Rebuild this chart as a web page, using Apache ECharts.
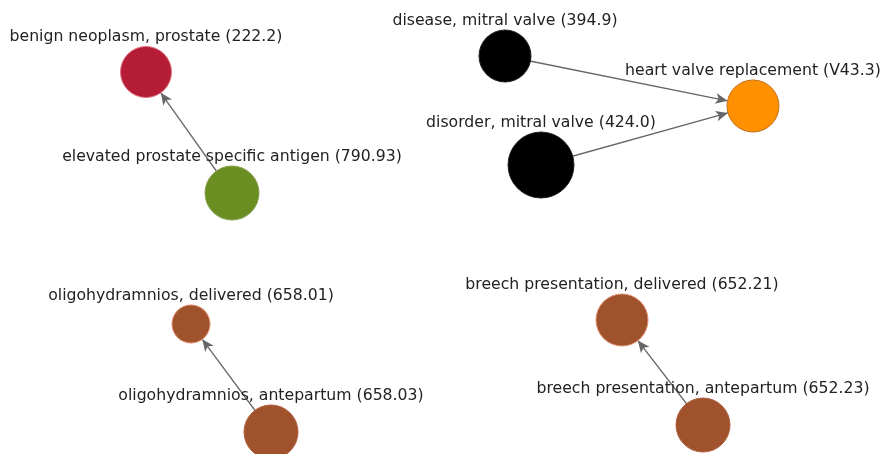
<!DOCTYPE html>
<html>
<head>
<meta charset="utf-8">
<script src="https://cdn.jsdelivr.net/npm/echarts@6/dist/echarts.min.js"></script>
<style>html,body{margin:0;padding:0;background:#fff}#c{width:882px;height:454px}</style>
</head>
<body>
<div id="c"></div>
<script>
// Node data
var nodeNames = [
  "benign neoplasm, prostate (222.2)",
  "elevated prostate specific antigen (790.93)",
  "disease, mitral valve (394.9)",
  "heart valve replacement (V43.3)",
  "disorder, mitral valve (424.0)",
  "oligohydramnios, delivered (658.01)",
  "oligohydramnios, antepartum (658.03)",
  "breech presentation, delivered (652.21)",
  "breech presentation, antepartum (652.23)"
];
var nodeX = [146, 232, 505, 753, 541, 191, 271, 622, 703];
var nodeY = [72, 193, 56, 106, 165, 324, 432, 320, 425];
var nodeSize = [51, 54, 52, 52, 66, 38, 54, 52, 54];
var nodeColors = ["#b51c35", "#6a8e22", "#000000", "#ff9000", "#000000", "#a0522d", "#a0522d", "#a0522d", "#a0522d"];
var nodeBorders = ["#e07080", "#8aa050", "#222222", "#c07020", "#222222", "#e09070", "#b06040", "#e09070", "#b06040"];
// Links: source -> target (indices)
var linkSource = [1, 2, 4, 6, 8];
var linkTarget = [0, 3, 3, 5, 7];

var nodes = nodeNames.map(function (n, i) {
  return {
    name: n,
    value: [nodeX[i], nodeY[i]],
    symbolSize: nodeSize[i],
    itemStyle: { color: nodeColors[i], borderColor: nodeBorders[i], borderWidth: 1 }
  };
});
var links = linkSource.map(function (s, i) {
  return { source: s, target: linkTarget[i] };
});

var chart = echarts.init(document.getElementById('c'), null, { renderer: 'canvas' });
chart.setOption({
  animation: false,
  backgroundColor: '#ffffff',
  grid: { left: 0, right: 0, top: 0, bottom: 0 },
  xAxis: { type: 'value', min: 0, max: 882, show: false },
  yAxis: { type: 'value', min: 0, max: 454, inverse: true, show: false },
  series: [{
    type: 'graph',
    coordinateSystem: 'cartesian2d',
    data: nodes,
    links: links,
    edgeSymbol: ['none', 'arrow'],
    edgeSymbolSize: [0, [8, 12]],
    lineStyle: { color: '#666666', width: 1.3, opacity: 1, curveness: 0 },
    label: {
      show: true,
      position: 'top',
      distance: 1,
      color: '#222222',
      fontFamily: 'DejaVu Sans',
      fontSize: 15.7,
      formatter: '{b}'
    },
    z: 2
  }]
});
</script>
</body>
</html>
